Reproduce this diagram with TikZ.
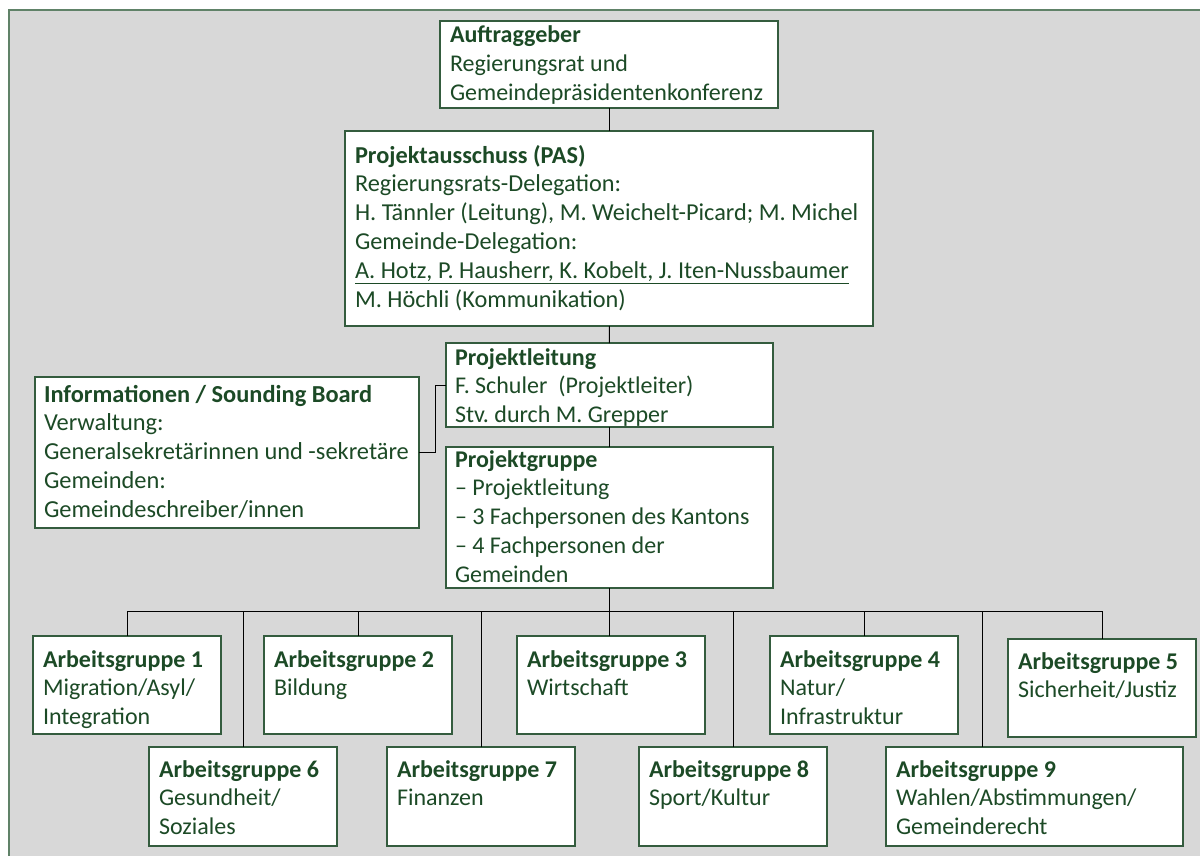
\documentclass[tikz,border=0pt]{standalone}
\usepackage{fontspec}
\setmainfont{Carlito}
\definecolor{txtgreen}{RGB}{28,74,38}
\definecolor{boxgreen}{RGB}{52,92,62}
\definecolor{framegreen}{RGB}{96,130,104}
\definecolor{bggray}{RGB}{216,216,216}
\newcommand{\orgtxt}[5]{\hspace*{#4pt}\begin{minipage}[c][#2pt][t]{\dimexpr#1pt-#4pt\relax}\raggedright\frenchspacing\rule{0pt}{#3pt}#5\end{minipage}}
\tikzset{
  orgbox/.style={draw=boxgreen, line width=1.3pt, fill=white, inner sep=0pt, outer sep=0pt,
    anchor=north west, font=\fontsize{24}{28.8}\selectfont, text=txtgreen},
  agbox/.style={orgbox, font=\fontsize{24}{28.5}\selectfont},
  link/.style={draw=black, line width=1pt}
}
\begin{document}
\begin{tikzpicture}[x=1pt,y=-1pt]
\useasboundingbox (0,0) rectangle (1200,856);
\clip (0,0) rectangle (1200,856);
\draw[framegreen, line width=1.6pt, fill=bggray] (9,10) rectangle (1215,870);

\node[orgbox, minimum width=338pt, minimum height=87pt] (auf) at (440,21)
  {\orgtxt{338}{87}{22}{10}{\textbf{Auftraggeber}\\Regierungsrat und\\Gemeindepräsidentenkonferenz}};
\node[orgbox, font=\fontsize{24.3}{28.9}\selectfont, minimum width=528pt, minimum height=195pt] (pas) at (345,131)
  {\orgtxt{528}{195}{32}{10}{\textbf{Projektausschuss (PAS)}\\Regierungsrats-Delegation:\\H. Tännler (Leitung), M. Weichelt-Picard; M. Michel\\Gemeinde-Delegation:\\\underline{A. Hotz, P. Hausherr, K. Kobelt, J. Iten-Nussbaumer}\\M. Höchli (Kommunikation)}};
\node[orgbox, minimum width=327pt, minimum height=84pt] (pl) at (446,343)
  {\orgtxt{327}{84}{22}{9}{\textbf{Projektleitung}\\F. Schuler\ \ (Projektleiter)\\Stv. durch M. Grepper}};
\node[orgbox, minimum width=327pt, minimum height=141pt] (pg) at (446,447)
  {\orgtxt{327}{141}{20}{9}{\textbf{Projektgruppe}\\– Projektleitung\\– 3 Fachpersonen des Kantons\\– 4 Fachpersonen der\\Gemeinden}};
\node[orgbox, font=\fontsize{24.4}{28.8}\selectfont, minimum width=384pt, minimum height=151pt] (info) at (35,377)
  {\orgtxt{384}{151}{25}{9}{\textbf{Informationen / Sounding Board}\\Verwaltung:\\Generalsekretärinnen und -sekretäre\\Gemeinden:\\Gemeindeschreiber/innen}};

\node[agbox, minimum width=188pt, minimum height=98pt] (ag1) at (33,636)
  {\orgtxt{188}{98}{31}{10}{\textbf{Arbeitsgruppe 1}\\Migration/Asyl/\\Integration}};
\node[agbox, minimum width=188pt, minimum height=98pt] (ag2) at (264,636)
  {\orgtxt{188}{98}{31}{10}{\textbf{Arbeitsgruppe 2}\\Bildung}};
\node[agbox, minimum width=188pt, minimum height=98pt] (ag3) at (517,636)
  {\orgtxt{188}{98}{31}{10}{\textbf{Arbeitsgruppe 3}\\Wirtschaft}};
\node[agbox, minimum width=188pt, minimum height=98pt] (ag4) at (770,636)
  {\orgtxt{188}{98}{31}{10}{\textbf{Arbeitsgruppe 4}\\Natur/\\Infrastruktur}};
\node[agbox, minimum width=188pt, minimum height=98pt] (ag5) at (1008,639)
  {\orgtxt{188}{98}{30}{10}{\textbf{Arbeitsgruppe 5}\\Sicherheit/Justiz}};
\node[agbox, minimum width=188pt, minimum height=99pt] (ag6) at (149,747)
  {\orgtxt{188}{99}{30}{10}{\textbf{Arbeitsgruppe 6}\\Gesundheit/\\Soziales}};
\node[agbox, minimum width=188pt, minimum height=99pt] (ag7) at (387,747)
  {\orgtxt{188}{99}{30}{10}{\textbf{Arbeitsgruppe 7}\\Finanzen}};
\node[agbox, minimum width=188pt, minimum height=99pt] (ag8) at (639,747)
  {\orgtxt{188}{99}{30}{10}{\textbf{Arbeitsgruppe 8}\\Sport/Kultur}};
\node[agbox, minimum width=297pt, minimum height=99pt] (ag9) at (886,747)
  {\orgtxt{297}{99}{30}{10}{\textbf{Arbeitsgruppe 9}\\Wahlen/Abstimmungen/\\Gemeinderecht}};

\coordinate (bus) at (609,611);
\coordinate (ex) at (435,0);
\coordinate (ag9in) at (982,747);

\draw[link] (auf) -- (pas);
\draw[link] (pas) -- (pl);
\draw[link] (pl) -- (pg);
\draw[link] (info.east) -- (info.east -| ex) |- (pl.west);
\draw[link, line width=1.5pt] (pg.south) -- (pg.south |- ag3.north);
\draw[link] (ag1.north |- bus) -- (ag5.north |- bus);
\foreach \n in {ag1,ag2,ag4,ag5,ag6,ag7,ag8}
  \draw[link] (\n.north |- bus) -- (\n.north);
\draw[link] (ag9in |- bus) -- (ag9in);
\end{tikzpicture}
\end{document}
